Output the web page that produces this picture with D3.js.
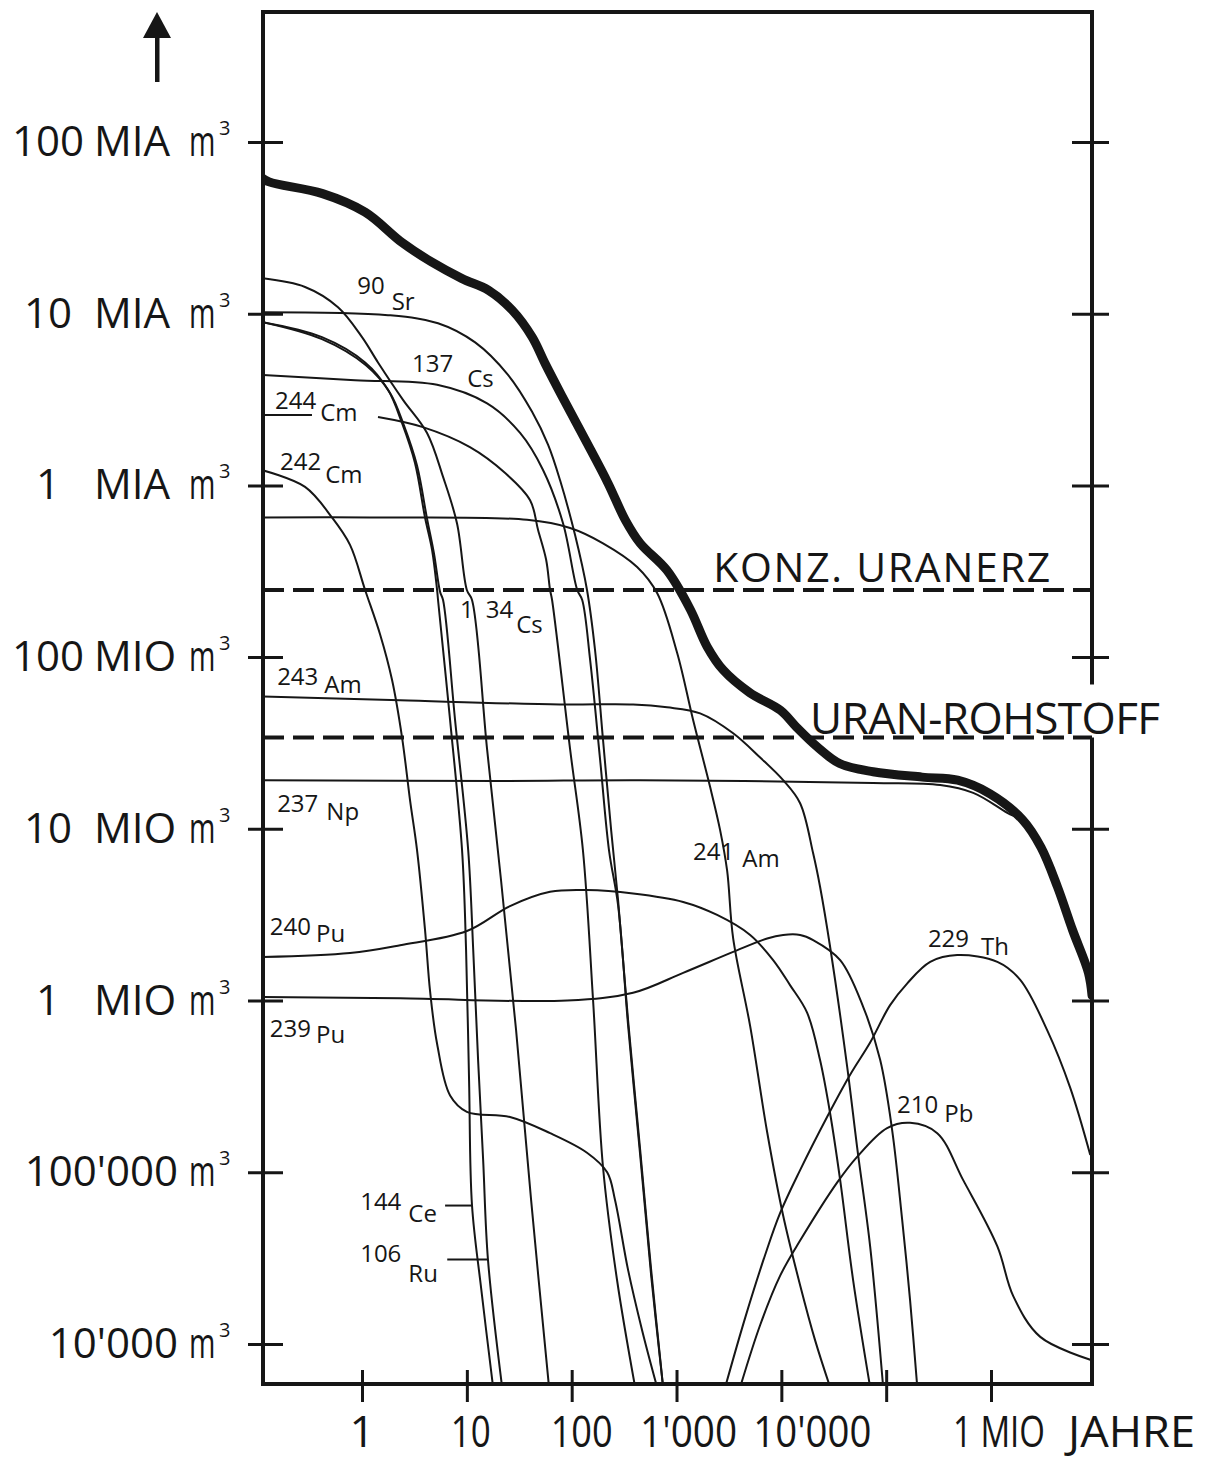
<!DOCTYPE html>
<html>
<head>
<meta charset="utf-8">
<script src="https://cdn.jsdelivr.net/npm/d3@7"></script>
<style>
  body { margin: 0; background: #fff; }
  svg { display: block; }
  text { font-family: "Open Sans", "DejaVu Sans", sans-serif; fill: #161616; }
</style>
</head>
<body>
<div id="chart"></div>
<script>
// x: Jahre nach Entladung, y: Wasservolumen (m3) zur Verdünnung auf zulässige Konzentration

const yTickValues = [1e11, 1e10, 1e9, 1e8, 1e7, 1e6, 1e5, 1e4];
const yTickNumbers = ['100', '10', '1', '100', '10', '1', "100'000", "10'000"];
const yTickUnits = ['MIA', 'MIA', 'MIA', 'MIO', 'MIO', 'MIO', '', ''];
const xTickValues = [1, 10, 100, 1000, 10000, 100000, 1000000];
const xTickLabels = ['1', '10', '100', "1'000", "10'000", '', '1 MIO'];
const xUnitLabel = 'JAHRE';

// reference levels (dashed)
const oreLevel = 2.46e8;   // KONZ. URANERZ
const rawLevel = 3.4e7;    // URAN-ROHSTOFF

// [years, m3]
const total = [[0.11, 6.2e10], [0.13, 5.85e10], [0.42, 5.0e10], [1.07, 3.9e10], [2.4, 2.6e10], [4.6, 2.0e10],
  [9, 1.6e10], [16, 1.37e10], [27, 1.05e10], [42, 7.3e9], [56, 5.1e9], [81, 3.3e9], [135, 1.84e9],
  [222, 1.03e9], [324, 6.3e8], [450, 4.6e8], [810, 3.2e8], [1350, 1.9e8], [1960, 1.15e8], [2790, 8.4e7],
  [5000, 6.2e7], [9800, 4.9e7], [14000, 3.9e7], [22000, 3.0e7], [36000, 2.4e7], [75000, 2.15e7],
  [2.2e5, 2.0e7], [4.8e5, 1.92e7], [9.8e5, 1.6e7], [2.0e6, 1.13e7], [3.0e6, 7.8e6], [4.3e6, 4.6e6],
  [6.0e6, 2.57e6], [8.5e6, 1.45e6], [9.2e6, 1.07e6]];

const ce144 = [[0.11, 8.95e9], [0.415, 7.3e9], [1.07, 5.2e9], [1.77, 3.6e9], [2.41, 2.3e9], [3.2, 1.35e9],
  [3.99, 6.5e8], [4.66, 4.2e8], [5.2, 2.46e8], [5.31, 2.15e8], [6.92, 4.3e7], [9.0, 7.5e6], [9.83, 1.97e6],
  [10.5, 3.4e5], [11.2, 6.4e4], [13.7, 2.1e4], [17.8, 5.6e3]];

const ru106 = [[0.11, 8.95e9], [0.415, 7.1e9], [1.09, 5.0e9], [1.85, 3.45e9], [2.52, 2.22e9], [3.35, 1.3e9],
  [4.17, 6.4e8], [4.86, 4.0e8], [5.55, 2.4e8], [5.93, 2.15e8], [7.72, 4.3e7], [10.3, 7.5e6], [11.5, 1.97e6],
  [12.8, 4.5e5], [14.3, 1.18e5], [15.9, 3.1e4], [21.7, 5.6e3]];

const cs134 = [[0.11, 1.61e10], [0.286, 1.43e10], [0.59, 1.09e10], [1.0, 7.3e9], [1.42, 5.2e9], [2.46, 3.15e9],
  [4.17, 2.02e9], [5.93, 1.12e9], [8.06, 6.0e8], [10.0, 2.46e8], [11.2, 2.15e8], [15.6, 2.9e7], [21.2, 5.0e6],
  [29.5, 6.7e5], [41, 6.9e4], [60.8, 5.6e3]];

const sr90 = [[0.11, 1.02e10], [1.77, 9.8e9], [5.31, 8.8e9], [12.0, 6.8e9], [24.7, 4.4e9], [41.9, 2.68e9],
  [59.6, 1.72e9], [77.5, 1.07e9], [108, 5.1e8], [140, 2.46e8], [167, 1.1e8], [199, 3.3e7], [238, 9.8e6],
  [277, 3.85e6], [345, 7.7e5], [450, 1.35e5], [573, 2.7e4], [745, 5.6e3]];

const cs137 = [[0.11, 4.4e9], [0.857, 4.1e9], [5.2, 3.85e9], [15.6, 3.0e9], [32.2, 2.02e9], [53.3, 1.23e9],
  [82.8, 6.0e8], [113, 2.46e8], [126, 2.15e8], [150, 9.6e7], [187, 2.5e7], [227, 7.5e6], [277, 3.6e6],
  [345, 7.2e5], [450, 1.26e5], [573, 2.5e4], [745, 5.6e3]];

// null = line hidden behind the label
const cm244 = [[0.11, 2.57e9], [0.333, 2.57e9], null, [1.42, 2.5e9], [3.74, 2.19e9], [10.7, 1.67e9],
  [23.2, 1.18e9], [40.1, 8.2e8], [47.8, 5.5e8], [57, 3.7e8], [62.2, 2.46e8], [65, 2.15e8], [96.6, 2.9e7],
  [128, 7.5e6], [160, 1.0e6], [199, 1.07e5], [271, 2.35e4], [403, 5.6e3]];

const cm242 = [[0.11, 1.23e9], [0.286, 9.8e8], [0.517, 6.5e8], [0.768, 4.5e8], [1.07, 2.46e8], [1.49, 1.35e8],
  [1.93, 7.4e7], [2.41, 3.4e7], [2.87, 1.47e7], [3.35, 7.5e6], [3.99, 2.58e6], [4.46, 1.13e6], [5.2, 5.6e5],
  [6.92, 2.8e5], [10.0, 2.25e5], [25.8, 2.1e5], [62.2, 1.69e5], [140, 1.3e5], [218, 1.0e5], [259, 6.9e4],
  [345, 2.7e4], [470, 1.2e4], [653, 5.6e3]];

const am241 = [[0.11, 6.5e8], [1.19, 6.5e8], [37.5, 6.3e8], [96.6, 5.65e8], [199, 4.6e8], [421, 3.35e8],
  [653, 2.36e8], [1013, 1.06e8], [1440, 4.3e7], [2093, 1.75e7], [2608, 9.8e6], [3040, 5.7e6], [3470, 2.3e6],
  [5040, 7.1e5], [7325, 1.71e5], [10400, 5.6e4], [15100, 2.2e4], [21000, 1.05e4], [29200, 5.6e3]];

const am243 = [[0.11, 5.9e7], [2.31, 5.6e7], [77.5, 5.3e7], [385, 5.3e7], [813, 5.1e7], [1680, 4.7e7],
  [3470, 3.6e7], [6280, 2.6e7], [10400, 1.92e7], [15100, 1.41e7], [20100, 7.2e6], [23400, 4.6e6],
  [29200, 2.05e6], [42500, 4.1e5], [52800, 1.4e5], [70300, 3.7e4], [93600, 5.6e3]];

const np237 = [[0.11, 1.92e7], [20.7, 1.9e7], [450, 1.92e7], [75100, 1.85e7], [3.28e5, 1.8e7], [6.77e5, 1.62e7],
  [1.43e6, 1.24e7], [2.03e6, 1.1e7], [2.95e6, 7.7e6], [4.29e6, 4.5e6], [6.1e6, 2.58e6], [8.47e6, 1.45e6],
  [9.2e6, 1.15e6]];

const pu240 = [[0.11, 1.79e6], [0.768, 1.89e6], [2.31, 2.1e6], [10.0, 2.54e6], [25.8, 3.55e6], [62.2, 4.3e6],
  [140, 4.4e6], [385, 4.2e6], [1157, 3.75e6], [2440, 3.15e6], [5040, 2.41e6], [8350, 1.72e6], [12100, 1.23e6],
  [17600, 8.5e5], [23400, 4.5e5], [29200, 2.2e5], [36400, 9.0e4], [48400, 2.35e4], [70300, 5.6e3]];

const pu239 = [[0.11, 1.05e6], [2.31, 1.03e6], [90.4, 1.0e6], [385, 1.11e6], [1157, 1.45e6], [3470, 1.92e6],
  [7325, 2.3e6], [10400, 2.41e6], [15100, 2.41e6], [20100, 2.25e6], [36400, 1.72e6], [60300, 9.2e5],
  [87700, 4.5e5], [1.14e5, 1.76e5], [1.42e5, 5.3e4], [1.69e5, 1.8e4], [1.98e5, 5.6e3]];

const th229 = [[2910, 5.6e3], [4515, 1.42e4], [7000, 3.3e4], [9745, 5.8e4], [15100, 1.03e5], [27300, 2.1e5],
  [45300, 3.7e5], [70300, 5.7e5], [1.09e5, 9.4e5], [1.59e5, 1.26e6], [2.63e5, 1.68e6], [4.76e5, 1.84e6],
  [1.15e6, 1.68e6], [1.9e6, 1.32e6], [3.44e6, 6.7e5], [5.7e6, 3.1e5], [8.85e6, 1.26e5]];

const pb210 = [[4045, 5.6e3], [6280, 1.29e4], [9745, 2.5e4], [15100, 4.0e4], [34000, 8.7e4], [52800, 1.23e5],
  [1.02e5, 1.81e5], [1.69e5, 1.94e5], [3.07e5, 1.69e5], [5.43e5, 9.0e4], [1.15e6, 3.7e4], [1.63e6, 1.9e4],
  [2.95e6, 1.1e4], [8.85e6, 8.1e3]];

const thinSeries = [ce144, ru106, cs134, sr90, cs137, cm244, cm242, am241, am243, np237, pu240, pu239, th229, pb210];

// nuclide labels: mass number, element, anchor [years, m3]
const nuclideLabels = [
  { mass: '90', el: 'Sr', at: [0.9, 1.3e10], dx: 7, dy: 16 },
  { mass: '137', el: 'Cs', at: [3.0, 4.6e9], dx: 14, dy: 15 },
  { mass: '244', el: 'Cm', at: [0.148, 2.8e9], dx: 4, dy: 12 },
  { mass: '242', el: 'Cm', at: [0.165, 1.23e9], dx: 4, dy: 13 },
  { mass: '1\u200234', el: 'Cs', at: [8.6, 1.7e8], dx: 3, dy: 15 },
  { mass: '243', el: 'Am', at: [0.155, 6.9e7], dx: 6, dy: 8 },
  { mass: '237', el: 'Np', at: [0.155, 1.25e7], dx: 8, dy: 8 },
  { mass: '240', el: 'Pu', at: [0.132, 2.4e6], dx: 5, dy: 7 },
  { mass: '239', el: 'Pu', at: [0.132, 6.1e5], dx: 5, dy: 6 },
  { mass: '241', el: 'Am', at: [1440, 6.6e6], dx: 8, dy: 7 },
  { mass: '229', el: 'Th', at: [2.5e5, 2.05e6], dx: 12, dy: 8 },
  { mass: '210', el: 'Pb', at: [1.27e5, 2.2e5], dx: 6, dy: 9 },
  { mass: '144', el: 'Ce', at: [0.96, 6.0e4], dx: 7, dy: 12 },
  { mass: '106', el: 'Ru', at: [0.96, 3.0e4], dx: 7, dy: 20 }
];
const pointers = [[[6.2, 6.4e4], [11.2, 6.4e4]], [[6.5, 3.1e4], [15.9, 3.1e4]]];

const W = 1208, H = 1459;
const frame = { left: 263, right: 1092, top: 12, bottom: 1384 };
const ink = '#161616';

const x = d3.scaleLog().domain([0.1136, 9.19e6]).range([frame.left, frame.right]);
const y = d3.scaleLog().domain([5848, 5.71e11]).range([frame.bottom, frame.top]);

const svg = d3.select('#chart').append('svg').attr('width', W).attr('height', H);
svg.append('rect').attr('width', W).attr('height', H).attr('fill', '#fff');

svg.append('defs').append('clipPath').attr('id', 'plot')
  .append('rect')
    .attr('x', frame.left).attr('y', frame.top)
    .attr('width', frame.right - frame.left).attr('height', frame.bottom - frame.top);

// arrow top left
svg.append('path')
  .attr('d', 'M157,12 L171,38 L143,38 Z')
  .attr('fill', ink);
svg.append('rect').attr('x', 155).attr('y', 36).attr('width', 4.5).attr('height', 46).attr('fill', ink);

// tick marks crossing the frame
const tickStyle = g => {
  g.select('.domain').remove();
  g.selectAll('.tick line').attr('stroke', ink).attr('stroke-width', 3);
};
svg.append('g').attr('transform', `translate(${frame.left + 20},0)`)
  .call(d3.axisLeft(y).tickValues(yTickValues).tickSize(35).tickFormat(''))
  .call(tickStyle);
svg.append('g').attr('transform', `translate(${frame.right - 20},0)`)
  .call(d3.axisRight(y).tickValues(yTickValues).tickSize(37).tickFormat(''))
  .call(tickStyle);
svg.append('g').attr('transform', `translate(0,${frame.bottom - 14})`)
  .call(d3.axisBottom(x).tickValues(xTickValues).tickSize(32).tickFormat(''))
  .call(tickStyle);

// curves
const line = d3.line()
  .defined(d => d !== null)
  .x(d => x(d[0]))
  .y(d => y(d[1]))
  .curve(d3.curveCatmullRom.alpha(0.5));

const plot = svg.append('g').attr('clip-path', 'url(#plot)');

plot.selectAll('.nuclide')
  .data(thinSeries)
  .enter()
    .append('path')
      .attr('class', 'nuclide')
      .attr('d', d => line(d))
      .attr('fill', 'none')
      .attr('stroke', ink)
      .attr('stroke-width', 2)
      .attr('stroke-linejoin', 'round');

plot.selectAll('.level')
  .data([oreLevel, rawLevel])
  .enter()
    .append('line')
      .attr('class', 'level')
      .attr('x1', frame.left).attr('x2', frame.right)
      .attr('y1', d => y(d)).attr('y2', d => y(d))
      .attr('stroke', ink)
      .attr('stroke-width', 4)
      .attr('stroke-dasharray', '21,9');

plot.append('path')
  .attr('d', line(total))
  .attr('fill', 'none')
  .attr('stroke', ink)
  .attr('stroke-width', 9)
  .attr('stroke-linecap', 'round')
  .attr('stroke-linejoin', 'round');

// pointers for 144Ce / 106Ru
svg.selectAll('.pointer')
  .data(pointers)
  .enter()
    .append('path')
      .attr('class', 'pointer')
      .attr('d', d => d3.line().x(p => x(p[0])).y(p => y(p[1]))(d))
      .attr('stroke', ink)
      .attr('stroke-width', 2);

// nuclide labels
const nl = svg.selectAll('.nlabel')
  .data(nuclideLabels)
  .enter()
    .append('text')
      .attr('class', 'nlabel')
      .attr('x', d => x(d.at[0]))
      .attr('y', d => y(d.at[1]))
      .style('font-size', '24px');
nl.append('tspan').text(d => d.mass);
nl.append('tspan').attr('dx', d => d.dx).attr('dy', d => d.dy).text(d => d.el);

// reference level labels
svg.append('text')
  .attr('x', x(2235)).attr('y', y(oreLevel) - 8)
  .attr('textLength', 337).attr('lengthAdjust', 'spacing')
  .style('font-size', '41px')
  .text('KONZ. URANERZ');

const rawLabel = svg.append('text')
  .attr('x', x(18800)).attr('y', y(rawLevel) - 4)
  .attr('textLength', 350).attr('lengthAdjust', 'spacing')
  .style('font-size', '44px')
  .text('URAN-ROHSTOFF');
const rawBox = rawLabel.node().getBBox();

// frame, open on the right where URAN-ROHSTOFF runs through it
const gapTop = rawBox.y - 2;
const gapBottom = y(rawLevel);
svg.append('path')
  .attr('d', `M${frame.right},${gapTop} L${frame.right},${frame.top} L${frame.left},${frame.top} ` +
             `L${frame.left},${frame.bottom} L${frame.right},${frame.bottom} L${frame.right},${gapBottom}`)
  .attr('fill', 'none')
  .attr('stroke', ink)
  .attr('stroke-width', 4)
  .attr('stroke-linejoin', 'miter');

// y tick labels
const yl = svg.selectAll('.ylabel')
  .data(yTickValues)
  .enter()
    .append('g')
      .attr('class', 'ylabel')
      .attr('transform', d => `translate(0,${y(d) + 14})`)
      .style('font-size', '42px');
yl.append('text')
  .attr('x', (d, i) => yTickUnits[i] ? 48 : 178)
  .attr('text-anchor', (d, i) => yTickUnits[i] ? 'middle' : 'end')
  .text((d, i) => yTickNumbers[i]);
yl.filter((d, i) => yTickUnits[i] !== '')
  .append('text')
    .attr('x', 94)
    .text(d => yTickUnits[yTickValues.indexOf(d)]);
// narrow "m" like the hand lettering
yl.append('text')
  .attr('transform', 'translate(189,0) scale(0.68,1)')
  .text('m');
yl.append('text')
  .attr('x', 219).attr('y', -21)
  .style('font-size', '20px')
  .text('3');

// x tick labels
const xLabelWidth = [null, 40, 62, 97, 118, 0, 92];
const xLabelNudge = [0, 4, 10, 12, 31, 0, 8];
svg.selectAll('.xlabel')
  .data(xTickValues.filter((d, i) => xTickLabels[i] !== ''))
  .enter()
    .append('text')
      .attr('class', 'xlabel')
      .each(function (d) {
        const i = xTickValues.indexOf(d);
        const t = d3.select(this)
          .attr('x', x(d) + xLabelNudge[i])
          .attr('y', 1447)
          .attr('text-anchor', 'middle')
          .style('font-size', '44px')
          .text(xTickLabels[i]);
        if (xLabelWidth[i]) t.attr('textLength', xLabelWidth[i]).attr('lengthAdjust', 'spacingAndGlyphs');
      });
svg.append('text')
  .attr('x', 1068).attr('y', 1447)
  .attr('textLength', 127).attr('lengthAdjust', 'spacingAndGlyphs')
  .style('font-size', '44px')
  .text(xUnitLabel);
</script>
</body>
</html>
